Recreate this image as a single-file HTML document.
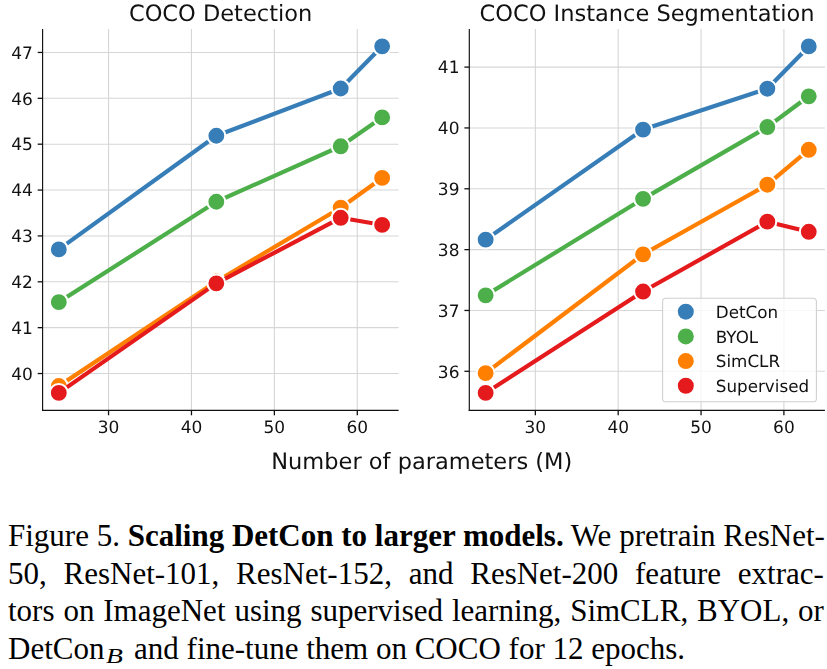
<!DOCTYPE html>
<html><head><meta charset="utf-8"><title>Figure 5</title>
<style>
html,body{margin:0;padding:0;background:#fff;}
text{text-rendering:geometricPrecision;}
body{width:827px;height:669px;overflow:hidden;position:relative;}
.fig{position:absolute;left:0;top:0;will-change:transform;}
.cap{position:absolute;left:0;top:0;width:827px;font-family:"Liberation Serif","Times New Roman",serif;font-size:31.0px;color:#000;white-space:nowrap;}
.ln1,.ln2,.ln3{text-align:justify;text-align-last:justify;}
.cap div{position:absolute;left:8.0px;width:815.9px;line-height:31.0px;height:31.0px;}
.cap i{font-size:20.6px;position:relative;top:4.0px;margin-left:1.4px;margin-right:7.9px;display:inline-block;transform:scaleX(1.34);transform-origin:0 0;}
</style></head>
<body>
<svg class="fig" width="827" height="490" viewBox="0 0 827 490">
<style>
.g{stroke:#d6d6d6;stroke-width:1.1;}
.ln{fill:none;stroke-width:4.2;stroke-linejoin:round;stroke-linecap:square;}
.mk{stroke:#fff;stroke-width:2.05;}
.sp{stroke:#111;stroke-width:1.15;}
.tk{stroke:#111;stroke-width:1.3;}
.tl{font-family:"DejaVu Sans",sans-serif;font-size:17.0px;fill:#111;}
.lt{font-family:"DejaVu Sans",sans-serif;font-size:16.75px;fill:#111;}
.tt{font-family:"DejaVu Sans",sans-serif;font-size:22.5px;fill:#111;}
.lg{fill:#fff;fill-opacity:0.8;stroke:#d0d0d0;stroke-width:1.1;}
</style>
<line x1="42.6" y1="373.54" x2="398.6" y2="373.54" class="g"/>
<line x1="42.6" y1="327.67" x2="398.6" y2="327.67" class="g"/>
<line x1="42.6" y1="281.8" x2="398.6" y2="281.8" class="g"/>
<line x1="42.6" y1="235.93" x2="398.6" y2="235.93" class="g"/>
<line x1="42.6" y1="190.06" x2="398.6" y2="190.06" class="g"/>
<line x1="42.6" y1="144.19" x2="398.6" y2="144.19" class="g"/>
<line x1="42.6" y1="98.32" x2="398.6" y2="98.32" class="g"/>
<line x1="42.6" y1="52.45" x2="398.6" y2="52.45" class="g"/>
<line x1="108.55" y1="29" x2="108.55" y2="410.4" class="g"/>
<line x1="191.46" y1="29" x2="191.46" y2="410.4" class="g"/>
<line x1="274.37" y1="29" x2="274.37" y2="410.4" class="g"/>
<line x1="357.28" y1="29" x2="357.28" y2="410.4" class="g"/>
<path d="M58.8,249.42 L216.33,135.73 L340.7,88.52 L382.15,46.34" stroke="#377eb8" class="ln"/>
<circle cx="58.8" cy="249.42" r="8.95" fill="#377eb8" class="mk"/>
<circle cx="216.33" cy="135.73" r="8.95" fill="#377eb8" class="mk"/>
<circle cx="340.7" cy="88.52" r="8.95" fill="#377eb8" class="mk"/>
<circle cx="382.15" cy="46.34" r="8.95" fill="#377eb8" class="mk"/>
<path d="M58.8,302.14 L216.33,201.75 L340.7,146.28 L382.15,117.4" stroke="#4daf4a" class="ln"/>
<circle cx="58.8" cy="302.14" r="8.95" fill="#4daf4a" class="mk"/>
<circle cx="216.33" cy="201.75" r="8.95" fill="#4daf4a" class="mk"/>
<circle cx="340.7" cy="146.28" r="8.95" fill="#4daf4a" class="mk"/>
<circle cx="382.15" cy="117.4" r="8.95" fill="#4daf4a" class="mk"/>
<path d="M58.8,386.04 L216.33,281.52 L340.7,207.71 L382.15,177.91" stroke="#ff7f00" class="ln"/>
<circle cx="58.8" cy="386.04" r="8.95" fill="#ff7f00" class="mk"/>
<circle cx="216.33" cy="281.52" r="8.95" fill="#ff7f00" class="mk"/>
<circle cx="340.7" cy="207.71" r="8.95" fill="#ff7f00" class="mk"/>
<circle cx="382.15" cy="177.91" r="8.95" fill="#ff7f00" class="mk"/>
<path d="M58.8,392.91 L216.33,283.35 L340.7,217.79 L382.15,224.9" stroke="#e41a1c" class="ln"/>
<circle cx="58.8" cy="392.91" r="8.95" fill="#e41a1c" class="mk"/>
<circle cx="216.33" cy="283.35" r="8.95" fill="#e41a1c" class="mk"/>
<circle cx="340.7" cy="217.79" r="8.95" fill="#e41a1c" class="mk"/>
<circle cx="382.15" cy="224.9" r="8.95" fill="#e41a1c" class="mk"/>
<line x1="42.6" y1="29" x2="42.6" y2="410.97" class="sp"/>
<line x1="42.02" y1="410.4" x2="398.6" y2="410.4" class="sp"/>
<line x1="37.7" y1="373.54" x2="42.6" y2="373.54" class="tk"/>
<text x="32.8" y="379.74" class="tl" text-anchor="end">40</text>
<line x1="37.7" y1="327.67" x2="42.6" y2="327.67" class="tk"/>
<text x="32.8" y="333.87" class="tl" text-anchor="end">41</text>
<line x1="37.7" y1="281.8" x2="42.6" y2="281.8" class="tk"/>
<text x="32.8" y="288" class="tl" text-anchor="end">42</text>
<line x1="37.7" y1="235.93" x2="42.6" y2="235.93" class="tk"/>
<text x="32.8" y="242.13" class="tl" text-anchor="end">43</text>
<line x1="37.7" y1="190.06" x2="42.6" y2="190.06" class="tk"/>
<text x="32.8" y="196.26" class="tl" text-anchor="end">44</text>
<line x1="37.7" y1="144.19" x2="42.6" y2="144.19" class="tk"/>
<text x="32.8" y="150.39" class="tl" text-anchor="end">45</text>
<line x1="37.7" y1="98.32" x2="42.6" y2="98.32" class="tk"/>
<text x="32.8" y="104.52" class="tl" text-anchor="end">46</text>
<line x1="37.7" y1="52.45" x2="42.6" y2="52.45" class="tk"/>
<text x="32.8" y="58.65" class="tl" text-anchor="end">47</text>
<line x1="108.55" y1="410.4" x2="108.55" y2="415.3" class="tk"/>
<text x="108.55" y="432.8" class="tl" text-anchor="middle">30</text>
<line x1="191.46" y1="410.4" x2="191.46" y2="415.3" class="tk"/>
<text x="191.46" y="432.8" class="tl" text-anchor="middle">40</text>
<line x1="274.37" y1="410.4" x2="274.37" y2="415.3" class="tk"/>
<text x="274.37" y="432.8" class="tl" text-anchor="middle">50</text>
<line x1="357.28" y1="410.4" x2="357.28" y2="415.3" class="tk"/>
<text x="357.28" y="432.8" class="tl" text-anchor="middle">60</text>
<text x="220.6" y="20.6" class="tt" text-anchor="middle">COCO Detection</text>
<line x1="469.3" y1="371.3" x2="824.9" y2="371.3" class="g"/>
<line x1="469.3" y1="310.46" x2="824.9" y2="310.46" class="g"/>
<line x1="469.3" y1="249.62" x2="824.9" y2="249.62" class="g"/>
<line x1="469.3" y1="188.78" x2="824.9" y2="188.78" class="g"/>
<line x1="469.3" y1="127.94" x2="824.9" y2="127.94" class="g"/>
<line x1="469.3" y1="67.1" x2="824.9" y2="67.1" class="g"/>
<line x1="535.35" y1="29" x2="535.35" y2="410.3" class="g"/>
<line x1="618.2" y1="29" x2="618.2" y2="410.3" class="g"/>
<line x1="701.05" y1="29" x2="701.05" y2="410.3" class="g"/>
<line x1="783.9" y1="29" x2="783.9" y2="410.3" class="g"/>
<path d="M485.64,239.64 L643.06,129.58 L767.33,88.7 L808.76,46.41" stroke="#377eb8" class="ln"/>
<circle cx="485.64" cy="239.64" r="8.95" fill="#377eb8" class="mk"/>
<circle cx="643.06" cy="129.58" r="8.95" fill="#377eb8" class="mk"/>
<circle cx="767.33" cy="88.7" r="8.95" fill="#377eb8" class="mk"/>
<circle cx="808.76" cy="46.41" r="8.95" fill="#377eb8" class="mk"/>
<path d="M485.64,295.37 L643.06,198.82 L767.33,127.03 L808.76,96.3" stroke="#4daf4a" class="ln"/>
<circle cx="485.64" cy="295.37" r="8.95" fill="#4daf4a" class="mk"/>
<circle cx="643.06" cy="198.82" r="8.95" fill="#4daf4a" class="mk"/>
<circle cx="767.33" cy="127.03" r="8.95" fill="#4daf4a" class="mk"/>
<circle cx="808.76" cy="96.3" r="8.95" fill="#4daf4a" class="mk"/>
<path d="M485.64,373.13 L643.06,254.3 L767.33,184.7 L808.76,149.78" stroke="#ff7f00" class="ln"/>
<circle cx="485.64" cy="373.13" r="8.95" fill="#ff7f00" class="mk"/>
<circle cx="643.06" cy="254.3" r="8.95" fill="#ff7f00" class="mk"/>
<circle cx="767.33" cy="184.7" r="8.95" fill="#ff7f00" class="mk"/>
<circle cx="808.76" cy="149.78" r="8.95" fill="#ff7f00" class="mk"/>
<path d="M485.64,392.9 L643.06,291.54 L767.33,221.69 L808.76,231.79" stroke="#e41a1c" class="ln"/>
<circle cx="485.64" cy="392.9" r="8.95" fill="#e41a1c" class="mk"/>
<circle cx="643.06" cy="291.54" r="8.95" fill="#e41a1c" class="mk"/>
<circle cx="767.33" cy="221.69" r="8.95" fill="#e41a1c" class="mk"/>
<circle cx="808.76" cy="231.79" r="8.95" fill="#e41a1c" class="mk"/>
<line x1="469.3" y1="29" x2="469.3" y2="410.88" class="sp"/>
<line x1="468.73" y1="410.3" x2="824.9" y2="410.3" class="sp"/>
<line x1="464.4" y1="371.3" x2="469.3" y2="371.3" class="tk"/>
<text x="459.5" y="377.5" class="tl" text-anchor="end">36</text>
<line x1="464.4" y1="310.46" x2="469.3" y2="310.46" class="tk"/>
<text x="459.5" y="316.66" class="tl" text-anchor="end">37</text>
<line x1="464.4" y1="249.62" x2="469.3" y2="249.62" class="tk"/>
<text x="459.5" y="255.82" class="tl" text-anchor="end">38</text>
<line x1="464.4" y1="188.78" x2="469.3" y2="188.78" class="tk"/>
<text x="459.5" y="194.98" class="tl" text-anchor="end">39</text>
<line x1="464.4" y1="127.94" x2="469.3" y2="127.94" class="tk"/>
<text x="459.5" y="134.14" class="tl" text-anchor="end">40</text>
<line x1="464.4" y1="67.1" x2="469.3" y2="67.1" class="tk"/>
<text x="459.5" y="73.3" class="tl" text-anchor="end">41</text>
<line x1="535.35" y1="410.3" x2="535.35" y2="415.2" class="tk"/>
<text x="535.35" y="432.7" class="tl" text-anchor="middle">30</text>
<line x1="618.2" y1="410.3" x2="618.2" y2="415.2" class="tk"/>
<text x="618.2" y="432.7" class="tl" text-anchor="middle">40</text>
<line x1="701.05" y1="410.3" x2="701.05" y2="415.2" class="tk"/>
<text x="701.05" y="432.7" class="tl" text-anchor="middle">50</text>
<line x1="783.9" y1="410.3" x2="783.9" y2="415.2" class="tk"/>
<text x="783.9" y="432.7" class="tl" text-anchor="middle">60</text>
<text x="647.1" y="20.6" class="tt" text-anchor="middle">COCO Instance Segmentation</text>
<rect x="662.6" y="298.2" width="153.8" height="103.6" rx="3.4" class="lg"/>
<circle cx="685.8" cy="311.7" r="8.0" fill="#377eb8"/>
<text x="715.8" y="317.9" class="lt">DetCon</text>
<circle cx="685.8" cy="336.38" r="8.0" fill="#4daf4a"/>
<text x="715.8" y="342.58" class="lt">BYOL</text>
<circle cx="685.8" cy="361.06" r="8.0" fill="#ff7f00"/>
<text x="715.8" y="367.26" class="lt">SimCLR</text>
<circle cx="685.8" cy="385.74" r="8.0" fill="#e41a1c"/>
<text x="715.8" y="391.94" class="lt">Supervised</text>
<text x="421.8" y="469" class="tt" text-anchor="middle">Number of parameters (M)</text>
</svg>
<div class="cap">
<div class="ln1" style="top:520.34px">Figure 5. <b>Scaling DetCon to larger models.</b> We pretrain ResNet-</div>
<div class="ln2" style="top:558.14px">50, ResNet-101, ResNet-152, and ResNet-200 feature extrac-</div>
<div class="ln3" style="top:594.94px">tors on ImageNet using supervised learning, SimCLR, BYOL, or</div>
<div class="ln4" style="top:632.84px">DetCon<i>B</i> and fine-tune them on COCO for 12 epochs.</div>
</div>
</body></html>
